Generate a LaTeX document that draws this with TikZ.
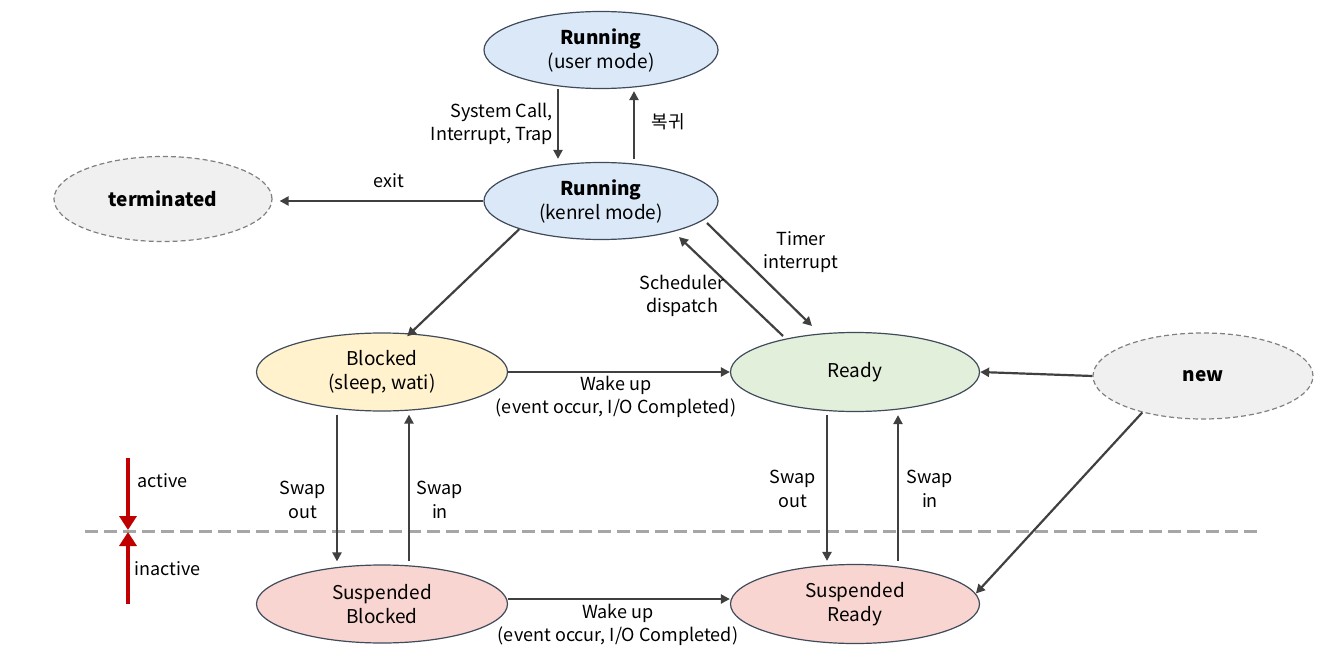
\documentclass[tikz,border=0pt]{standalone}
\usepackage{fontspec}
\setmainfont{Noto Sans CJK KR}
\usetikzlibrary{shapes.geometric,arrows.meta}
\definecolor{arrgray}{HTML}{404040}
\definecolor{bordc}{HTML}{3F4B5B}
\definecolor{runfill}{HTML}{DAE8F8}
\definecolor{blkfill}{HTML}{FFF2CC}
\definecolor{rdyfill}{HTML}{E2EFDA}
\definecolor{susfill}{HTML}{F8D5D0}
\definecolor{endfill}{HTML}{F0F0F0}
\definecolor{dashc}{HTML}{A6A6A6}
\definecolor{redc}{HTML}{C00000}
\tikzset{
  st/.style={ellipse, draw=bordc, line width=1.2pt, inner sep=0pt, align=center, font=\fontsize{19}{24}\selectfont},
  endst/.style={st, draw=gray, dashed, dash pattern=on 5pt off 3pt, fill=endfill},
  arr/.style={draw=arrgray, line width=2.2pt, -{Triangle[length=9pt,width=9pt]}},
  lbl/.style={font=\fontsize{18}{23.5}\selectfont, text=black, align=center, inner sep=1pt},
  redarr/.style={draw=redc, line width=4pt, -{Triangle[length=14pt,width=17pt]}}
}
\begin{document}
\begin{tikzpicture}[x=1pt,y=-1pt]
\useasboundingbox (0,0) rectangle (1336,666);
% nodes
\node[st, fill=runfill, minimum width=234pt, minimum height=77pt] (u) at (601,50) {\textbf{Running}\\(user mode)};
\node[st, fill=runfill, minimum width=234pt, minimum height=77pt] (k) at (601,201) {\textbf{Running}\\(kenrel mode)};
\node[endst, minimum width=218pt, minimum height=85pt] (t) at (163,199) {\textbf{terminated}};
\node[st, fill=blkfill, minimum width=251pt, minimum height=78pt] (b) at (382,372) {Blocked\\(sleep, wati)};
\node[st, fill=rdyfill, minimum width=249pt, minimum height=79pt] (r) at (855,372) {Ready};
\node[endst, minimum width=220pt, minimum height=86pt] (n) at (1203,376) {\textbf{new}};
\node[st, fill=susfill, minimum width=251pt, minimum height=78pt] (sb) at (382,604) {Suspended\\Blocked};
\node[st, fill=susfill, minimum width=249pt, minimum height=79pt] (sr) at (855,604) {Suspended\\Ready};
% dashed separator
\coordinate (dl) at (85,531);
\coordinate (dr) at (1260,531);
\draw[dashc, line width=3pt, dash pattern=on 13pt off 6pt] (dl) -- (dr);
% red arrows
\coordinate (ra1) at (128,458);
\coordinate (ra2) at (128,530);
\coordinate (ra3) at (128,604);
\coordinate (ra4) at (128,532);
\draw[redarr] (ra1) -- (ra2);
\draw[redarr] (ra3) -- (ra4);
\node[lbl, anchor=west] (act) at (136,481) {active};
\node[lbl, anchor=west] (inact) at (133,569) {inactive};
% connectors
\draw[arr] ([xshift=-43pt]u.south) -- ([xshift=-43pt,yshift=3pt]k.north);
\draw[arr] ([xshift=33pt,yshift=3pt]k.north) -- ([xshift=33pt,yshift=-2pt]u.south);
\draw[arr, shorten >=7pt] (k.west) -- (k.west -| t.east);
\draw[arr] (k.199) -- ([shift={(-2pt,-3pt)}]b.55);
\draw[arr] ([shift={(106,22)}]k.center) -- ([shift={(-43,-46)}]r.center);
\draw[arr] ([shift={(-72,-36)}]r.center) -- ([shift={(78,36)}]k.center);
\draw[arr] (b.east) -- (b.east -| r.west);
\draw[arr] (n.west) -- (r.east);
\draw[arr] (n.211) -- ([shift={(2pt,-2pt)}]sr.6);
\draw[arr] ([yshift=5pt]sb.east) -- ([yshift=5pt]sr.west);
\draw[arr, shorten <=3pt] ([xshift=-45pt]b.south) -- ([xshift=-45pt,yshift=3pt]sb.north);
\draw[arr] ([xshift=27pt,yshift=3pt]sb.north) -- ([xshift=27pt,yshift=-3pt]b.south);
\draw[arr, shorten <=3pt] ([xshift=-28pt]r.south) -- ([xshift=-28pt,yshift=3pt]sr.north);
\draw[arr] ([xshift=43pt,yshift=3pt]sr.north) -- ([xshift=43pt,yshift=-3pt]r.south);
% labels
\node[lbl, align=right, anchor=east] (l1) at (554,124) {System Call,\\Interrupt, Trap};
\node[lbl] (l2) at (668,122) {복귀};
\node[lbl] (l3) at (389,181) {exit};
\node[lbl] (l4) at (801,252) {Timer\\interrupt};
\node[lbl] (l5) at (682,296) {Scheduler\\dispatch};
\node[lbl] (l6) at (616,397) {Wake up\\(event occur, I/O Completed)};
\node[lbl] (l7) at (618,625) {Wake up\\(event occur, I/O Completed)};
\node[lbl] (l8) at (303,500) {Swap\\out};
\node[lbl] (l9) at (440,500) {Swap\\in};
\node[lbl] (l10) at (793,489) {Swap\\out};
\node[lbl] (l11) at (930,489) {Swap\\in};
\end{tikzpicture}
\end{document}
